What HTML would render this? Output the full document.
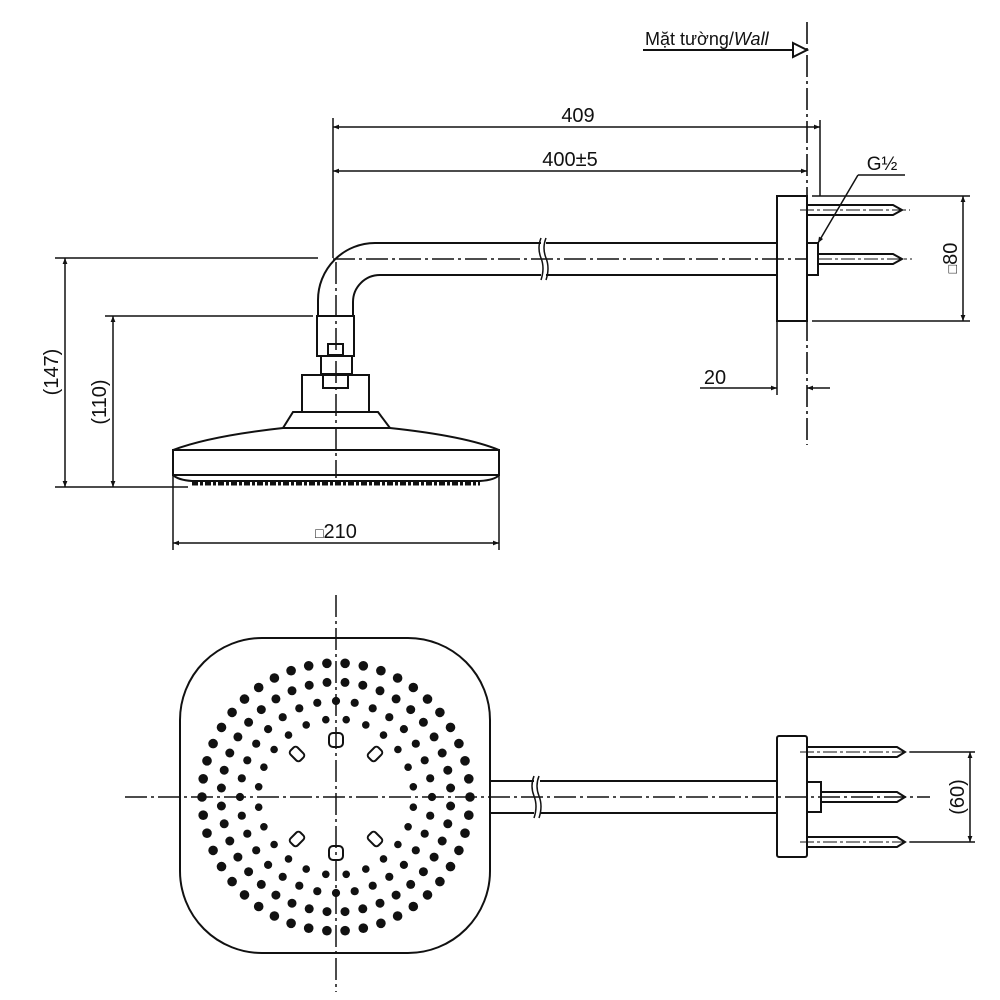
<!DOCTYPE html>
<html><head><meta charset="utf-8"><style>
html,body{margin:0;padding:0;background:#fff;width:1000px;height:1000px;overflow:hidden}
svg{display:block}
text{font-family:"Liberation Sans",sans-serif;fill:#111}
</style></head><body>
<svg id="s" width="1000" height="1000" viewBox="0 0 1000 1000" xmlns="http://www.w3.org/2000/svg">
<defs>
<marker id="a" viewBox="0 0 10 10" refX="10" refY="5" markerWidth="10" markerHeight="6" orient="auto-start-reverse" markerUnits="userSpaceOnUse"><path d="M0,1 L10,5 L0,9 Z" fill="#111"/></marker>
</defs>
<g stroke="#111" stroke-width="2" fill="none">
<line x1="807" y1="22" x2="807" y2="445" stroke-dasharray="22 4 3 4" stroke-width="1.6"/>
<line x1="643" y1="50" x2="793" y2="50"/>
<path d="M793,43 L807,50 L793,57 Z" fill="#fff"/>
<line x1="333" y1="118" x2="333" y2="258" stroke-width="1.5"/>
<line x1="820" y1="120" x2="820" y2="196" stroke-width="1.5"/>
<line x1="333" y1="127" x2="820" y2="127" marker-start="url(#a)" marker-end="url(#a)" stroke-width="1.5"/>
<line x1="333" y1="171" x2="807" y2="171" marker-start="url(#a)" marker-end="url(#a)" stroke-width="1.5"/>
<path d="M318,315 L318,300 A57,57 0 0 1 375,243 L541,243"/>
<path d="M353,315 L353,302 A27,27 0 0 1 380,275 L541,275"/>
<path d="M546,243 L777,243 M546,275 L777,275"/>
<path d="M541,238 q-4,10 0,20 q4,10 0,22 M546,238 q-4,10 0,20 q4,10 0,22" stroke-width="1.5"/>
<line x1="333" y1="259" x2="807" y2="259" stroke-dasharray="22 4 3 4" stroke-width="1.5"/>
<line x1="336" y1="262" x2="336" y2="478" stroke-dasharray="22 4 3 4" stroke-width="1.5"/>
<rect x="317" y="316" width="37" height="40"/>
<rect x="328" y="344" width="15" height="11"/>
<rect x="321" y="356" width="31" height="18"/>
<rect x="323" y="374" width="25" height="14"/>
<rect x="302" y="375" width="67" height="37"/>
<path d="M293,412 L378,412 L390,428 L283,428 Z"/>
<path d="M283,428 Q210,436 173,450 M390,428 Q465,436 499,450"/>
<rect x="173" y="450" width="326" height="25"/>
<path d="M173,475 Q178,480 192,481 L480,481 Q495,480 499,475"/>
<path d="M192,483 L480,483" stroke-width="5" stroke-dasharray="6 2 3 2"/>
<line x1="55" y1="258" x2="318" y2="258" stroke-width="1.5"/>
<line x1="105" y1="316" x2="313" y2="316" stroke-width="1.5"/>
<line x1="55" y1="487" x2="188" y2="487" stroke-width="1.5"/>
<line x1="65" y1="258" x2="65" y2="487" marker-start="url(#a)" marker-end="url(#a)" stroke-width="1.5"/>
<line x1="113" y1="316" x2="113" y2="487" marker-start="url(#a)" marker-end="url(#a)" stroke-width="1.5"/>
<line x1="173" y1="475" x2="173" y2="550" stroke-width="1.5"/>
<line x1="499" y1="475" x2="499" y2="550" stroke-width="1.5"/>
<line x1="173" y1="543" x2="499" y2="543" marker-start="url(#a)" marker-end="url(#a)" stroke-width="1.5"/>
<rect x="777" y="196" width="30" height="125"/>
<rect x="807" y="243" width="11" height="32"/>
<path d="M807,205 L893,205 L902,210 L893,215 L807,215"/>
<path d="M818,254 L893,254 L902,259 L893,264 L818,264"/>
<line x1="800" y1="210" x2="910" y2="210" stroke-dasharray="14 3 3 3" stroke-width="1"/>
<line x1="818" y1="259" x2="912" y2="259" stroke-dasharray="14 3 3 3" stroke-width="1"/>
<line x1="812" y1="196" x2="970" y2="196" stroke-width="1.5"/>
<line x1="812" y1="321" x2="970" y2="321" stroke-width="1.5"/>
<line x1="963" y1="196" x2="963" y2="321" marker-start="url(#a)" marker-end="url(#a)" stroke-width="1.5"/>
<line x1="777" y1="321" x2="777" y2="395" stroke-width="1.5"/>
<line x1="700" y1="388" x2="777" y2="388" marker-end="url(#a)" stroke-width="1.5"/>
<line x1="830" y1="388" x2="807" y2="388" marker-end="url(#a)" stroke-width="1.5"/>
<line x1="858" y1="175" x2="905" y2="175" stroke-width="1.5"/>
<line x1="858" y1="175" x2="818" y2="243" marker-end="url(#a)" stroke-width="1.5"/>
<rect x="180" y="638" width="310" height="315" rx="82" ry="82"/>
<line x1="336" y1="595" x2="336" y2="992" stroke-dasharray="22 4 3 4" stroke-width="1.5"/>
<line x1="125" y1="797" x2="930" y2="797" stroke-dasharray="22 4 3 4" stroke-width="1.5"/>
<path d="M490,781 L534,781 M490,813 L534,813 M540,781 L777,781 M540,813 L777,813"/>
<path d="M534,776 q-4,10 0,20 q4,10 0,22 M539,776 q-4,10 0,20 q4,10 0,22" stroke-width="1.5"/>
<rect x="777" y="736" width="30" height="121" rx="2"/>
<rect x="807" y="782" width="14" height="30"/>
<path d="M807,747 L897,747 L905,752 L897,757 L807,757"/>
<path d="M821,792 L897,792 L905,797 L897,802 L821,802"/>
<path d="M807,837 L897,837 L905,842 L897,847 L807,847"/>
<line x1="800" y1="752" x2="910" y2="752" stroke-dasharray="14 3 3 3" stroke-width="1"/>
<line x1="800" y1="842" x2="910" y2="842" stroke-dasharray="14 3 3 3" stroke-width="1"/>
<line x1="910" y1="752" x2="975" y2="752" stroke-width="1.5"/>
<line x1="910" y1="842" x2="975" y2="842" stroke-width="1.5"/>
<line x1="970" y1="752" x2="970" y2="842" marker-start="url(#a)" marker-end="url(#a)" stroke-width="1.5"/>
<g stroke-width="2">
<rect x="329" y="733" width="14" height="14" rx="4"/>
<rect x="329" y="846" width="14" height="14" rx="4"/>
<rect x="290" y="749" width="14" height="10" rx="3" transform="rotate(45 297 754)"/>
<rect x="368" y="749" width="14" height="10" rx="3" transform="rotate(-45 375 754)"/>
<rect x="290" y="834" width="14" height="10" rx="3" transform="rotate(-45 297 839)"/>
<rect x="368" y="834" width="14" height="10" rx="3" transform="rotate(45 375 839)"/>
</g>
</g>
<g id="dots" fill="#111"></g>
<text x="645" y="45" font-size="18">Mặt tường/<tspan font-style="italic">Wall</tspan></text>
<text x="578" y="122" font-size="20" text-anchor="middle">409</text>
<text x="570" y="166" font-size="20" text-anchor="middle">400±5</text>
<text x="882" y="170" font-size="19" text-anchor="middle">G½</text>
<text x="715" y="384" font-size="20" text-anchor="middle">20</text>
<text x="336" y="538" font-size="20" text-anchor="middle"><tspan font-size="14">□</tspan>210</text>
<text transform="translate(58,372) rotate(-90)" font-size="20" text-anchor="middle">(147)</text>
<text transform="translate(106,402) rotate(-90)" font-size="20" text-anchor="middle">(110)</text>
<text transform="translate(957,258) rotate(-90)" font-size="20" text-anchor="middle"><tspan font-size="14">□</tspan>80</text>
<text transform="translate(964,797) rotate(-90)" font-size="20" text-anchor="middle">(60)</text>
</svg>
<script>
var g=document.getElementById('dots'),cx=336,cy=797,s='';
var rings=[[134,46,4.8],[115,40,4.5],[96,32,4.1],[78,24,3.8]];
rings.forEach(function(r,i){for(var k=0;k<r[1];k++){var a=2*Math.PI*k/r[1]+(i%2?Math.PI/r[1]:0);
s+='<circle cx="'+(cx+r[0]*Math.cos(a)).toFixed(1)+'" cy="'+(cy+r[0]*Math.sin(a)).toFixed(1)+'" r="'+r[2]+'"/>';}});
g.innerHTML=s;
</script>
</body></html>
